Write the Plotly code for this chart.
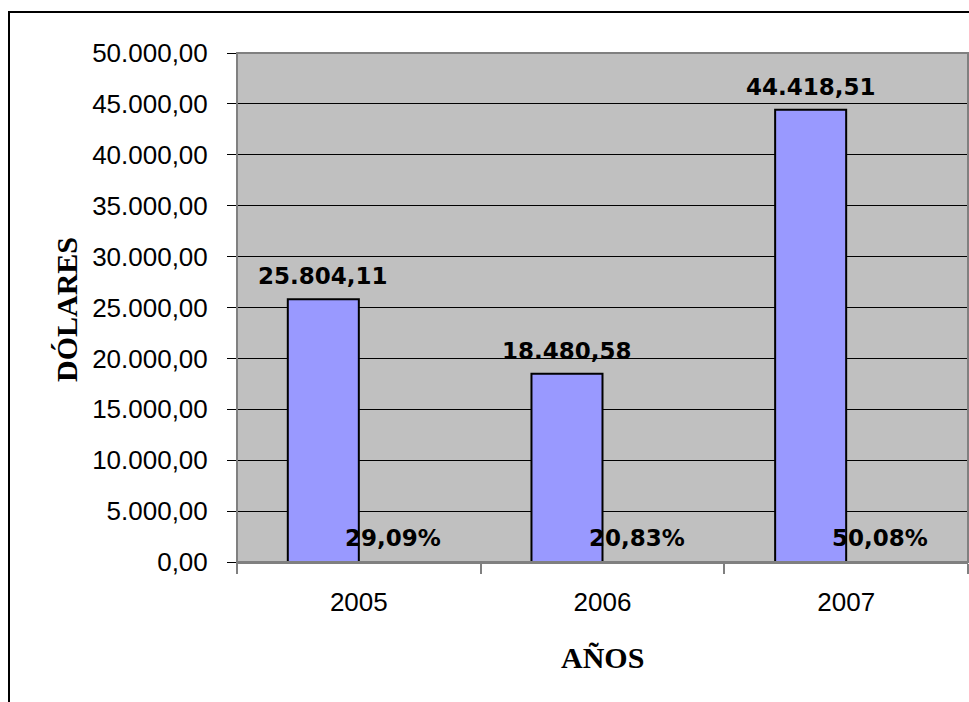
import plotly.graph_objects as go

years = ["2005", "2006", "2007"]
dollars = [25804.11, 18480.58, 44418.51]
shares = [0.2909, 0.2083, 0.5008]
y_ticks = [0, 5000, 10000, 15000, 20000, 25000, 30000, 35000, 40000, 45000, 50000]


def es_num(v, dec=2):
    s = f"{v:,.{dec}f}"
    return s.replace(",", "X").replace(".", ",").replace("X", ".")


fig = go.Figure()
fig.add_trace(go.Bar(
    x=years, y=dollars, name="Dólares",
    marker=dict(color="#9999FF", line=dict(color="black", width=2)),
))
fig.add_trace(go.Bar(
    x=years, y=shares, name="%",
    marker=dict(color="#9999FF", line=dict(color="black", width=0)),
))

label_font = dict(family="DejaVu Sans", size=23, color="black")
annotations = []
for i, v in enumerate(dollars):
    annotations.append(dict(
        x=i, y=v, xref="x", yref="y", text="<b>" + es_num(v) + "</b>",
        showarrow=False, xshift=-35.5, yshift=23, yanchor="middle",
        font=label_font,
    ))
for i, p in enumerate(shares):
    annotations.append(dict(
        x=i, y=0, xref="x", yref="y", text="<b>" + es_num(p * 100) + "%</b>",
        showarrow=False, xshift=34, yshift=24, yanchor="middle",
        font=label_font,
    ))
annotations.append(dict(
    x=(66 - 237) / 731, y=(562 - 310) / 509, xref="paper", yref="paper",
    text="<b>DÓLARES</b>", textangle=-90, showarrow=False,
    font=dict(family="Liberation Serif", size=30, color="black"),
    xanchor="center", yanchor="middle",
))
annotations.append(dict(
    x=(602 - 237) / 731, y=(562 - 657) / 509, xref="paper", yref="paper",
    text="<b>AÑOS</b>", showarrow=False,
    font=dict(family="Liberation Serif", size=30, color="black"),
    xanchor="center", yanchor="middle",
))

shapes = [
    dict(type="rect", xref="paper", yref="paper",
         x0=(9 - 237) / 731, x1=(980 - 237) / 731,
         y0=(562 - 720) / 509, y1=(562 - 12) / 509,
         line=dict(color="black", width=2), layer="below"),
    dict(type="rect", xref="paper", yref="paper", x0=0, x1=1, y0=0, y1=1,
         line=dict(color="#808080", width=2), layer="above"),
]

fig.update_layout(
    width=969, height=702,
    margin=dict(l=237, r=1, t=53, b=140),
    paper_bgcolor="white", plot_bgcolor="#C0C0C0",
    barmode="group", bargap=0.417, bargroupgap=0,
    showlegend=False,
    separators=",.",
    font=dict(family="Liberation Sans", size=26, color="black"),
    annotations=annotations, shapes=shapes,
)
fig.update_xaxes(
    type="category", range=[-0.5, 2.5], tickson="boundaries",
    ticks="outside", ticklen=10,
    tickcolor="#808080", tickwidth=2, showgrid=False,
    showline=True, linecolor="#808080", linewidth=2,
    ticklabelstandoff=16, tickangle=0,
    tickfont=dict(family="Liberation Sans", size=26, color="black"),
)
fig.update_yaxes(
    range=[0, 50000], tickvals=y_ticks, tickformat=",.2f",
    ticks="outside", ticklen=9, tickcolor="black", tickwidth=1,
    showgrid=True, gridcolor="black", gridwidth=1,
    showline=True, linecolor="black", linewidth=1,
    zeroline=False, ticklabelstandoff=14,
    tickfont=dict(family="Liberation Sans", size=26, color="black"),
)

fig.write_html("out.html")
